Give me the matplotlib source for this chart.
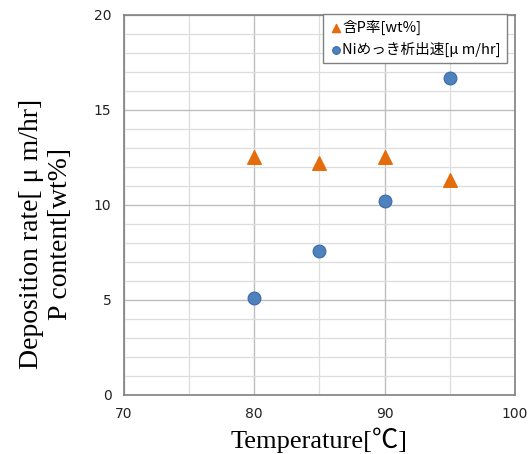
import matplotlib
matplotlib.use("Agg")
import matplotlib.pyplot as plt
from matplotlib.ticker import MultipleLocator

temps = [80, 85, 90, 95]
p_content = [12.5, 12.2, 12.5, 11.3]
dep_rate = [5.1, 7.6, 10.2, 16.7]

fig = plt.figure(figsize=(5.32, 4.54), dpi=100)
ax = fig.add_axes([0.233, 0.130, 0.735, 0.837])

ax.scatter(temps, p_content, marker="^", s=95, color="#E46C0A", zorder=3,
           label="含P率[wt%]")
ax.scatter(temps, dep_rate, marker="o", s=85, color="#4F81BD", edgecolor="#3A6AA8",
           linewidth=0.8, zorder=3, label="Niめっき析出速[μ m/hr]")

ax.set_xlim(70, 100)
ax.set_ylim(0, 20)
ax.xaxis.set_major_locator(MultipleLocator(10))
ax.xaxis.set_minor_locator(MultipleLocator(5))
ax.yaxis.set_major_locator(MultipleLocator(5))
ax.yaxis.set_minor_locator(MultipleLocator(1))
ax.grid(which="major", color="#BDBDBD", linewidth=1.0)
ax.grid(which="minor", color="#DDDDDD", linewidth=0.9)
ax.set_axisbelow(True)
ax.tick_params(which="both", length=0, labelsize=10, colors="#222222", pad=9)
for s in ax.spines.values():
    s.set_color("#808080")
    s.set_linewidth(1.2)

lab_font = ["Liberation Serif", "Noto Sans CJK JP"]
ax.set_xlabel("Temperature[℃]", family=lab_font, fontsize=19, labelpad=4)
ax.set_ylabel("Deposition rate[ μ m/hr]\nP content[wt%]", family=lab_font,
              fontsize=20, linespacing=1.2)
ax.yaxis.set_label_coords(-0.13, 0.424)

leg = ax.legend(loc="upper right", bbox_to_anchor=(0.997, 1.022),
                prop={"family": ["Noto Sans CJK JP", "DejaVu Sans"], "size": 10.5},
                handletextpad=0.0, handlelength=0.9, markerscale=0.6, borderpad=0.4,
                labelspacing=0.5, fancybox=False, framealpha=1)
leg.get_frame().set_edgecolor("#808080")

fig.savefig("out.png", dpi=100)
